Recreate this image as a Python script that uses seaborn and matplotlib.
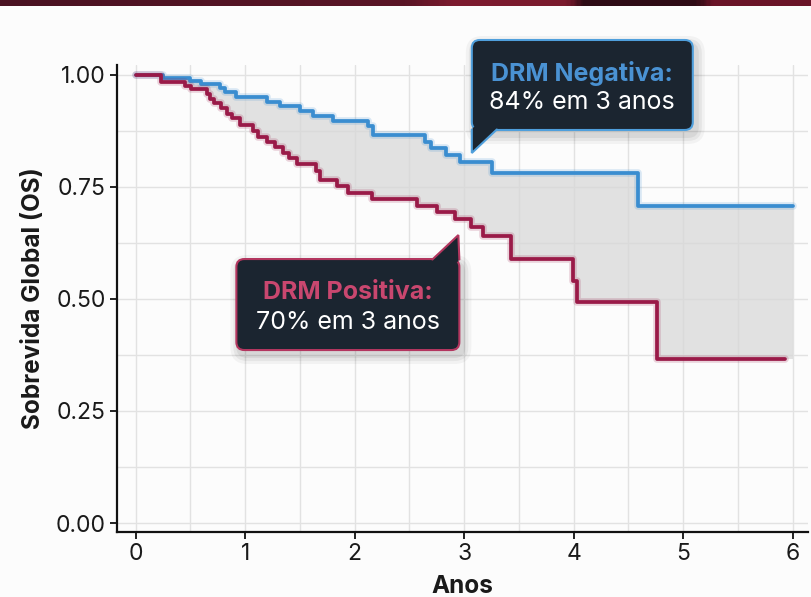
import numpy as np
import pandas as pd
import matplotlib
matplotlib.use("Agg")
import matplotlib.pyplot as plt
import seaborn as sns
import matplotlib.patheffects as pe
from matplotlib.patches import FancyBboxPatch, Polygon
from matplotlib.transforms import ScaledTranslation
from matplotlib.ticker import MultipleLocator
from matplotlib.colors import LinearSegmentedColormap

# ---------------- data ----------------
groups = ["DRM Negativa", "DRM Positiva"]
neg_t = [0, 0.25, 0.5, 0.6, 0.77, 0.82, 0.92, 1.2, 1.32, 1.5, 1.62, 1.8, 2.12, 2.17,
         2.64, 2.7, 2.83, 2.96, 3.25, 4.59, 6.0]
neg_s = [1.0, 0.993, 0.987, 0.98, 0.97, 0.962, 0.95, 0.94, 0.93, 0.92, 0.908, 0.897,
         0.885, 0.865, 0.85, 0.836, 0.822, 0.806, 0.78, 0.708, 0.708]
pos_t = [0, 0.23, 0.45, 0.51, 0.65, 0.68, 0.72, 0.78, 0.83, 0.88, 0.95, 1.07, 1.12,
         1.2, 1.27, 1.35, 1.4, 1.47, 1.65, 1.68, 1.84, 1.94, 2.16, 2.57, 2.75, 2.92,
         3.06, 3.17, 3.43, 3.99, 4.03, 4.76, 5.93]
pos_s = [1.0, 0.985, 0.976, 0.969, 0.957, 0.946, 0.937, 0.926, 0.913, 0.904, 0.888,
         0.875, 0.862, 0.85, 0.838, 0.826, 0.815, 0.802, 0.786, 0.766, 0.752, 0.737,
         0.723, 0.708, 0.693, 0.678, 0.66, 0.64, 0.589, 0.54, 0.493, 0.366, 0.366]
x_ticks = [0, 1, 2, 3, 4, 5, 6]
y_ticks = [0.0, 0.25, 0.5, 0.75, 1.0]
y_tick_labels = ["0.00", "0.25", "0.50", "0.75", "1.00"]
x_label = "Anos"
y_label = "Sobrevida Global (OS)"
callout_titles = ["DRM Negativa:", "DRM Positiva:"]
callout_texts = ["84% em 3 anos", "70% em 3 anos"]

colors = {"DRM Negativa": "#3a8dd0", "DRM Positiva": "#9a1a48"}

df = pd.concat([
    pd.DataFrame({"t": neg_t, "s": neg_s, "group": groups[0]}),
    pd.DataFrame({"t": pos_t, "s": pos_s, "group": groups[1]}),
], ignore_index=True)

# ---------------- style ----------------
sns.set_theme(style="whitegrid")
plt.rcParams["font.family"] = ["Inter", "Lato", "DejaVu Sans"]

fig = plt.figure(figsize=(8.12, 5.97), dpi=100, facecolor="#fcfcfc")
ax = fig.add_axes([117 / 812, 65 / 597, 691 / 812, 467 / 597])
ax.set_facecolor("#fcfcfc")

# fill between curves
times = np.array(sorted(set(neg_t) | set(pos_t)))
nt, ns = np.array(neg_t), np.array(neg_s)
ptt, ps = np.array(pos_t), np.array(pos_s)
s_neg = ns[np.searchsorted(nt, times, side="right") - 1]
s_pos = ps[np.searchsorted(ptt, times, side="right") - 1]
ax.fill_between(times, s_pos, s_neg, step="post", color="#d8d8d8", alpha=0.75,
                lw=0, zorder=1)

sns.lineplot(data=df, x="t", y="s", hue="group", palette=colors,
             drawstyle="steps-post", estimator=None, linewidth=2.7,
             legend=False, ax=ax, zorder=3)
for line, g in zip(ax.get_lines(), groups):
    line.set_path_effects([pe.Stroke(linewidth=5.5, foreground=colors[g], alpha=0.18),
                           pe.Normal()])

ax.set_xlim(-0.17, 6.14)
ax.set_ylim(-0.02, 1.022)
ax.set_xticks(x_ticks)
ax.set_xticklabels([str(v) for v in x_ticks])
ax.set_yticks(y_ticks)
ax.set_yticklabels(y_tick_labels)
ax.xaxis.set_minor_locator(MultipleLocator(0.5))
ax.yaxis.set_minor_locator(MultipleLocator(0.125))
ax.grid(which="both", color="#e2e2e2", lw=1.0)
ax.set_axisbelow(True)
ax.tick_params(which="major", length=5, width=1.3, color="#111111", direction="out",
               left=True, bottom=True, labelsize=16.5, labelcolor="#1a1a1a", pad=3)
ax.tick_params(which="minor", length=0)
for side in ["top", "right"]:
    ax.spines[side].set_visible(False)
for side in ["left", "bottom"]:
    ax.spines[side].set_color("#111111")
    ax.spines[side].set_linewidth(1.6)

ax.set_xlabel(x_label, fontsize=17.5, fontweight="bold", color="#1a1a1a", labelpad=7)
ax.set_ylabel(y_label, fontsize=17.5, fontweight="bold", color="#1a1a1a", labelpad=8)

# ---------------- callouts ----------------
def callout(anchor, w, h, ptr, title, text, title_color, edge):
    """anchor: lower-left in data coords; shape in pixels (converted to inches)."""
    tr = fig.dpi_scale_trans + ScaledTranslation(anchor[0], anchor[1], ax.transData)
    k = 1 / 100.0
    face = "#1b2530"
    for i, a in enumerate([0.06, 0.05, 0.04]):
        sp = (i + 1) * 3
        sh = FancyBboxPatch((( -sp + 3) * k, (-sp - 5) * k), (w + 2 * sp) * k,
                            (h + 2 * sp) * k,
                            boxstyle=f"round,pad=0,rounding_size={(8 + sp) * k}",
                            transform=tr, fc="black", ec="none", alpha=a,
                            clip_on=False, zorder=8)
        ax.add_patch(sh)
    box = FancyBboxPatch((0, 0), w * k, h * k,
                         boxstyle=f"round,pad=0,rounding_size={8 * k}",
                         transform=tr, fc=face, ec=edge, lw=1.5, clip_on=False,
                         zorder=9)
    ax.add_patch(box)
    pts = [(x * k, y * k) for x, y in ptr]
    poly = Polygon(pts, closed=True, transform=tr, fc=face, ec="none",
                   clip_on=False, zorder=10)
    ax.add_patch(poly)
    ex = [pts[1][0], pts[2][0], pts[3][0]]
    ey = [pts[1][1], pts[2][1], pts[3][1]]
    ax.plot(ex, ey, transform=tr, color=edge, lw=1.5, clip_on=False, zorder=11,
            solid_joinstyle="miter")
    ax.text(w / 2 * k, h * 0.63 * k, title, transform=tr, ha="center", va="center",
            fontsize=18, fontweight="bold", color=title_color, zorder=12)
    ax.text(w / 2 * k, h * 0.30 * k, text, transform=tr, ha="center", va="center",
            fontsize=18, color="white", zorder=12)

# DRM Negativa: pointer hangs below the box on the left
callout((3.07, 0.877), 221, 90,
        [(2, 3), (0, 0.5), (0, -23), (25, 0.5), (25, 3)],
        callout_titles[0], callout_texts[0], "#4a92d3", "#4f9fdc")
# DRM Positiva: pointer rises above the box on the right
callout((0.92, 0.386), 223, 91,
        [(221, 88), (223, 90.5), (222, 115), (196, 90.5), (196, 88)],
        callout_titles[1], callout_texts[1], "#c9476f", "#b3365f")

# ---------------- top banner ----------------
bar = fig.add_axes([0, 591 / 597, 1, 6 / 597])
cmap = LinearSegmentedColormap.from_list(
    "band", [(0, "#4a1222"), (0.5, "#5a1526"), (0.56, "#7d1b2f"), (0.70, "#7a1a2d"),
             (0.72, "#2e0b15"), (0.86, "#2e0b15"), (0.88, "#6a1428"), (1, "#6a1428")])
bar.imshow(np.linspace(0, 1, 400)[None, :], aspect="auto", cmap=cmap,
           extent=[0, 1, 0, 1])
bar.axis("off")

fig.savefig("out.png", dpi=100, facecolor=fig.get_facecolor())
